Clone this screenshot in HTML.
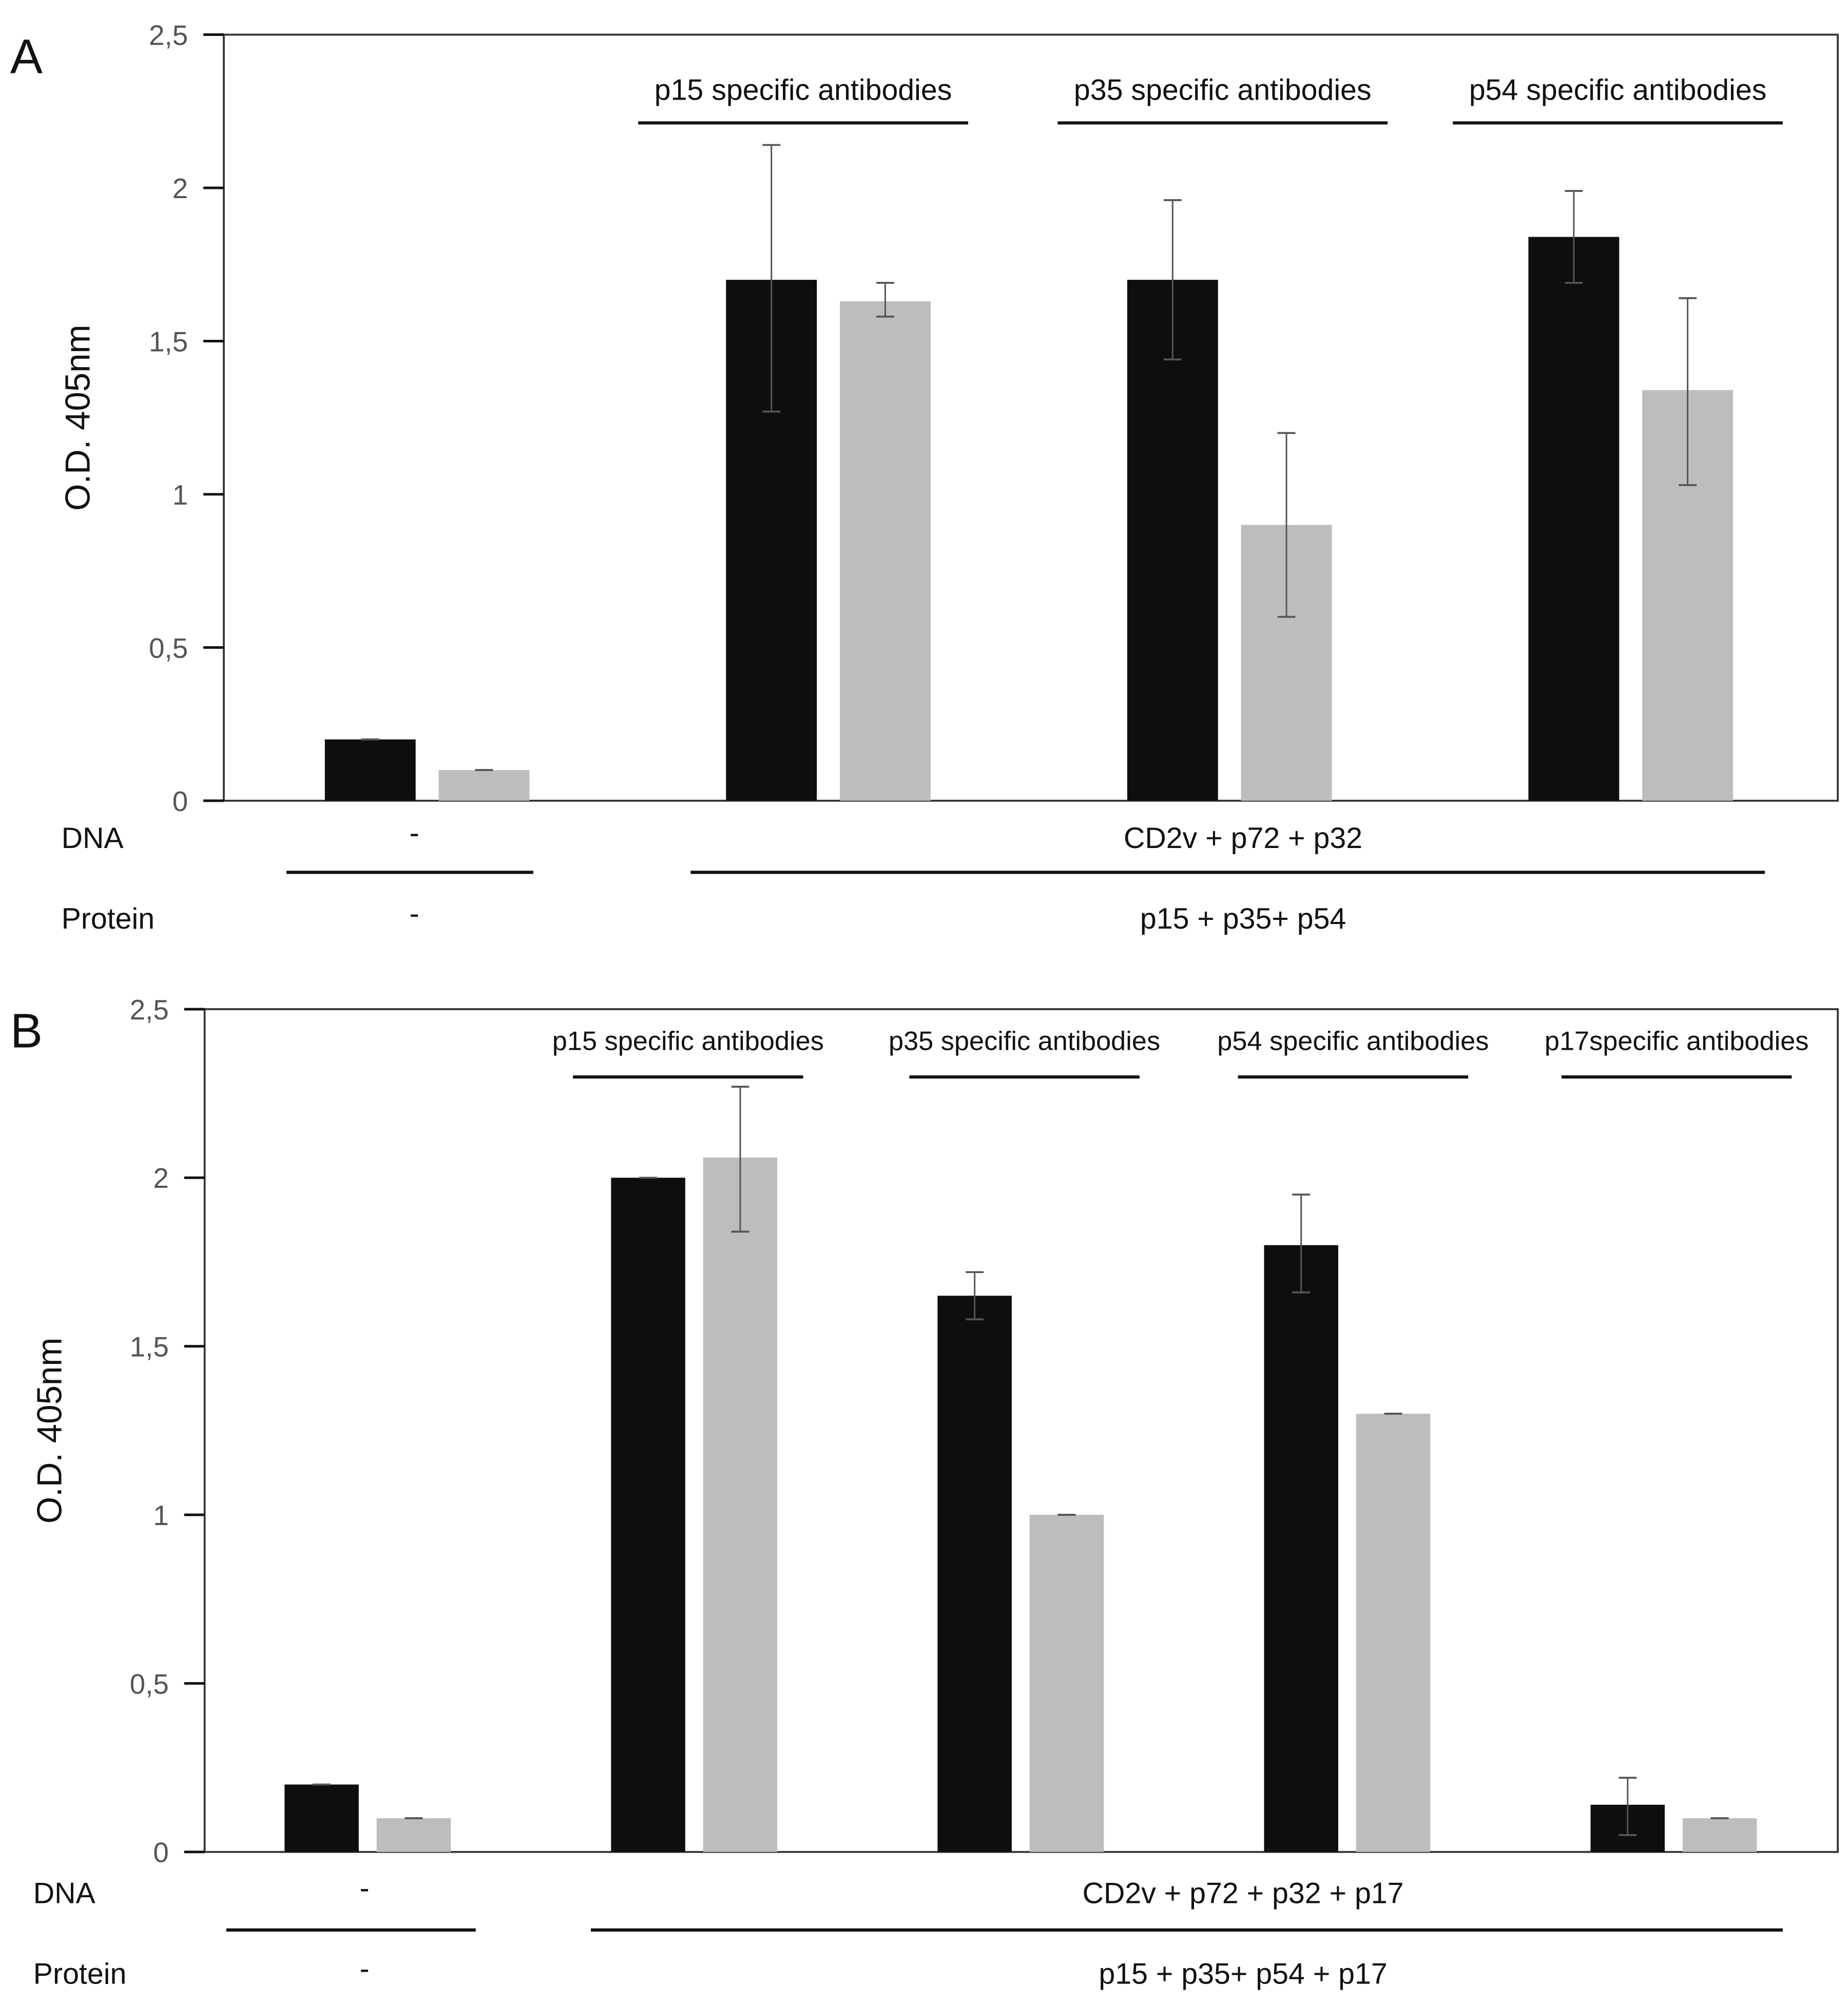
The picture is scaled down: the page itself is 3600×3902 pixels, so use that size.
<!DOCTYPE html>
<html><head><meta charset="utf-8"><style>
html,body{margin:0;padding:0;background:#fff;}
svg{display:block;font-family:"Liberation Sans",sans-serif;}
</style></head><body>
<svg id="fig" width="3600" height="3902" viewBox="0 0 1445 1566" xmlns="http://www.w3.org/2000/svg">
<rect width="1445" height="1566" fill="#fff"/>
</svg>
<script>
const NS="http://www.w3.org/2000/svg";
const svg=document.getElementById('fig');
// Panel A data
const aGroups=["-","p15","p35","p54"];
const aBlack=[0.2,1.7,1.7,1.84];
const aBlackLo=[0.2,1.27,1.44,1.69];
const aBlackHi=[0.2,2.14,1.96,1.99];
const aGrey=[0.1,1.63,0.9,1.34];
const aGreyLo=[0.1,1.58,0.6,1.03];
const aGreyHi=[0.1,1.69,1.2,1.64];
const aTitles=["p15 specific antibodies","p35 specific antibodies","p54 specific antibodies"];
// Panel B data
const bGroups=["-","p15","p35","p54","p17"];
const bBlack=[0.2,2.0,1.65,1.8,0.14];
const bBlackLo=[0.2,2.0,1.58,1.66,0.05];
const bBlackHi=[0.2,2.0,1.72,1.95,0.22];
const bGrey=[0.1,2.06,1.0,1.3,0.1];
const bGreyLo=[0.1,1.84,1.0,1.3,0.1];
const bGreyHi=[0.1,2.27,1.0,1.3,0.1];
const bTitles=["p15 specific antibodies","p35 specific antibodies","p54 specific antibodies","p17specific antibodies"];
const ticks=[0,0.5,1,1.5,2,2.5];
const tickLabels=["0","0,5","1","1,5","2","2,5"];

function el(tag,attrs,text){const e=document.createElementNS(NS,tag);for(const k in attrs)e.setAttribute(k,attrs[k]);if(text!==undefined)e.textContent=text;svg.appendChild(e);return e;}

function panel(cfg){
  const y=v=>cfg.bottom-(v/2.5)*(cfg.bottom-cfg.top);
  let e=el('rect',{x:cfg.left,y:cfg.top,width:cfg.right-cfg.left,height:cfg.bottom-cfg.top,fill:'none',stroke:'#333','stroke-width':1.5});
  
  ticks.forEach((t,i)=>{
    const tk=el('line',{x1:cfg.left-16,x2:cfg.left,y1:y(t),y2:y(t),stroke:'#111','stroke-width':2});
    
    const tl=el('text',{x:cfg.left-28,y:y(t)+8,'text-anchor':'end','font-size':22,fill:'#555'},tickLabels[i]);
    
  });
  const yt=el('text',{x:0,y:0,'font-size':27,fill:'#111','text-anchor':'middle',transform:`translate(${cfg.ytx},${(cfg.top+cfg.bottom)/2}) rotate(-90)`},'O.D. 405nm');
  
  const lt=el('text',{x:8,y:cfg.top+30,'font-size':38,fill:'#111'},cfg.letter);
  
  cfg.black.forEach((v,i)=>{
    const cx=cfg.gx0+i*cfg.gstep;
    [[v,cfg.blo[i],cfg.bhi[i],cx-cfg.gap/2-cfg.bw,'#0e0e0e','black'],[cfg.grey[i],cfg.glo[i],cfg.ghi[i],cx+cfg.gap/2,'#bdbdbd','grey']].forEach(([val,lo,hi,x,col,nm])=>{
      const r=el('rect',{x:x,y:y(val),width:cfg.bw,height:cfg.bottom-y(val),fill:col});
      
      const mx=x+cfg.bw/2;
      const ln=el('line',{x1:mx,x2:mx,y1:y(hi),y2:y(lo),stroke:'#555','stroke-width':1.2});
      
      [hi,lo].forEach(vv=>{const c=el('line',{x1:mx-7,x2:mx+7,y1:y(vv),y2:y(vv),stroke:'#555','stroke-width':1.5});
        });
    });
  });
  cfg.titles.forEach((t,i)=>{
    const tx=cfg.titleX[i];
    const tt=el('text',{x:tx,y:cfg.titleY,'text-anchor':'middle','font-size':cfg.titleFs,fill:'#111'},t);
    
    const tl=el('line',{x1:tx-cfg.titleHalf,x2:tx+cfg.titleHalf,y1:cfg.titleY+cfg.ulOff,y2:cfg.titleY+cfg.ulOff,stroke:'#111','stroke-width':2.5});
    
  });
  const rows=[['DNA',cfg.dnaY,'-',cfg.dnaText],['Protein',cfg.protY,'-',cfg.protText]];
  rows.forEach(([lab,yy,a,b])=>{
    const t1=el('text',{x:cfg.rowLabX,y:yy,'font-size':23,fill:'#111'},lab);
    
    const t2=el('text',{x:cfg.negX,y:yy-4,'text-anchor':'middle','font-size':23,fill:'#111'},a);
    
    const t3=el('text',{x:cfg.posX,y:yy,'text-anchor':'middle','font-size':23,fill:'#111'},b);
    
  });
  const l1=el('line',{x1:cfg.sep1[0],x2:cfg.sep1[1],y1:cfg.sepY,y2:cfg.sepY,stroke:'#111','stroke-width':2.5});
  
  const l2=el('line',{x1:cfg.sep2[0],x2:cfg.sep2[1],y1:cfg.sepY,y2:cfg.sepY,stroke:'#111','stroke-width':2.5});
  
}

panel({id:'a',letter:'A',left:175,right:1437,top:27,bottom:626,ytx:70,
  groups:aGroups,black:aBlack,blo:aBlackLo,bhi:aBlackHi,grey:aGrey,glo:aGreyLo,ghi:aGreyHi,
  gx0:334,gstep:313.7,bw:71,gap:18,
  titles:aTitles,titleX:[628,956,1265],titleY:78,titleFs:23,titleHalf:129,ulOff:18,
  rowLabX:48,dnaY:663,protY:726,negX:324,posX:972,dnaText:'CD2v + p72 + p32',protText:'p15 + p35+ p54',
  sepY:682,sep1:[224,417],sep2:[540,1380]});
panel({id:'b',letter:'B',left:160,right:1437,top:789,bottom:1448,ytx:48,
  groups:bGroups,black:bBlack,blo:bBlackLo,bhi:bBlackHi,grey:bGrey,glo:bGreyLo,ghi:bGreyHi,
  gx0:287.5,gstep:255.3,bw:58,gap:14,
  titles:bTitles,titleX:[538,801,1058,1311],titleY:821,titleFs:21,titleHalf:90,ulOff:21,
  rowLabX:26,dnaY:1488,protY:1551,negX:285,posX:972,dnaText:'CD2v + p72 + p32 + p17',protText:'p15 + p35+ p54 + p17',
  sepY:1509,sep1:[177,372],sep2:[462,1394]});
</script>
</body></html>
